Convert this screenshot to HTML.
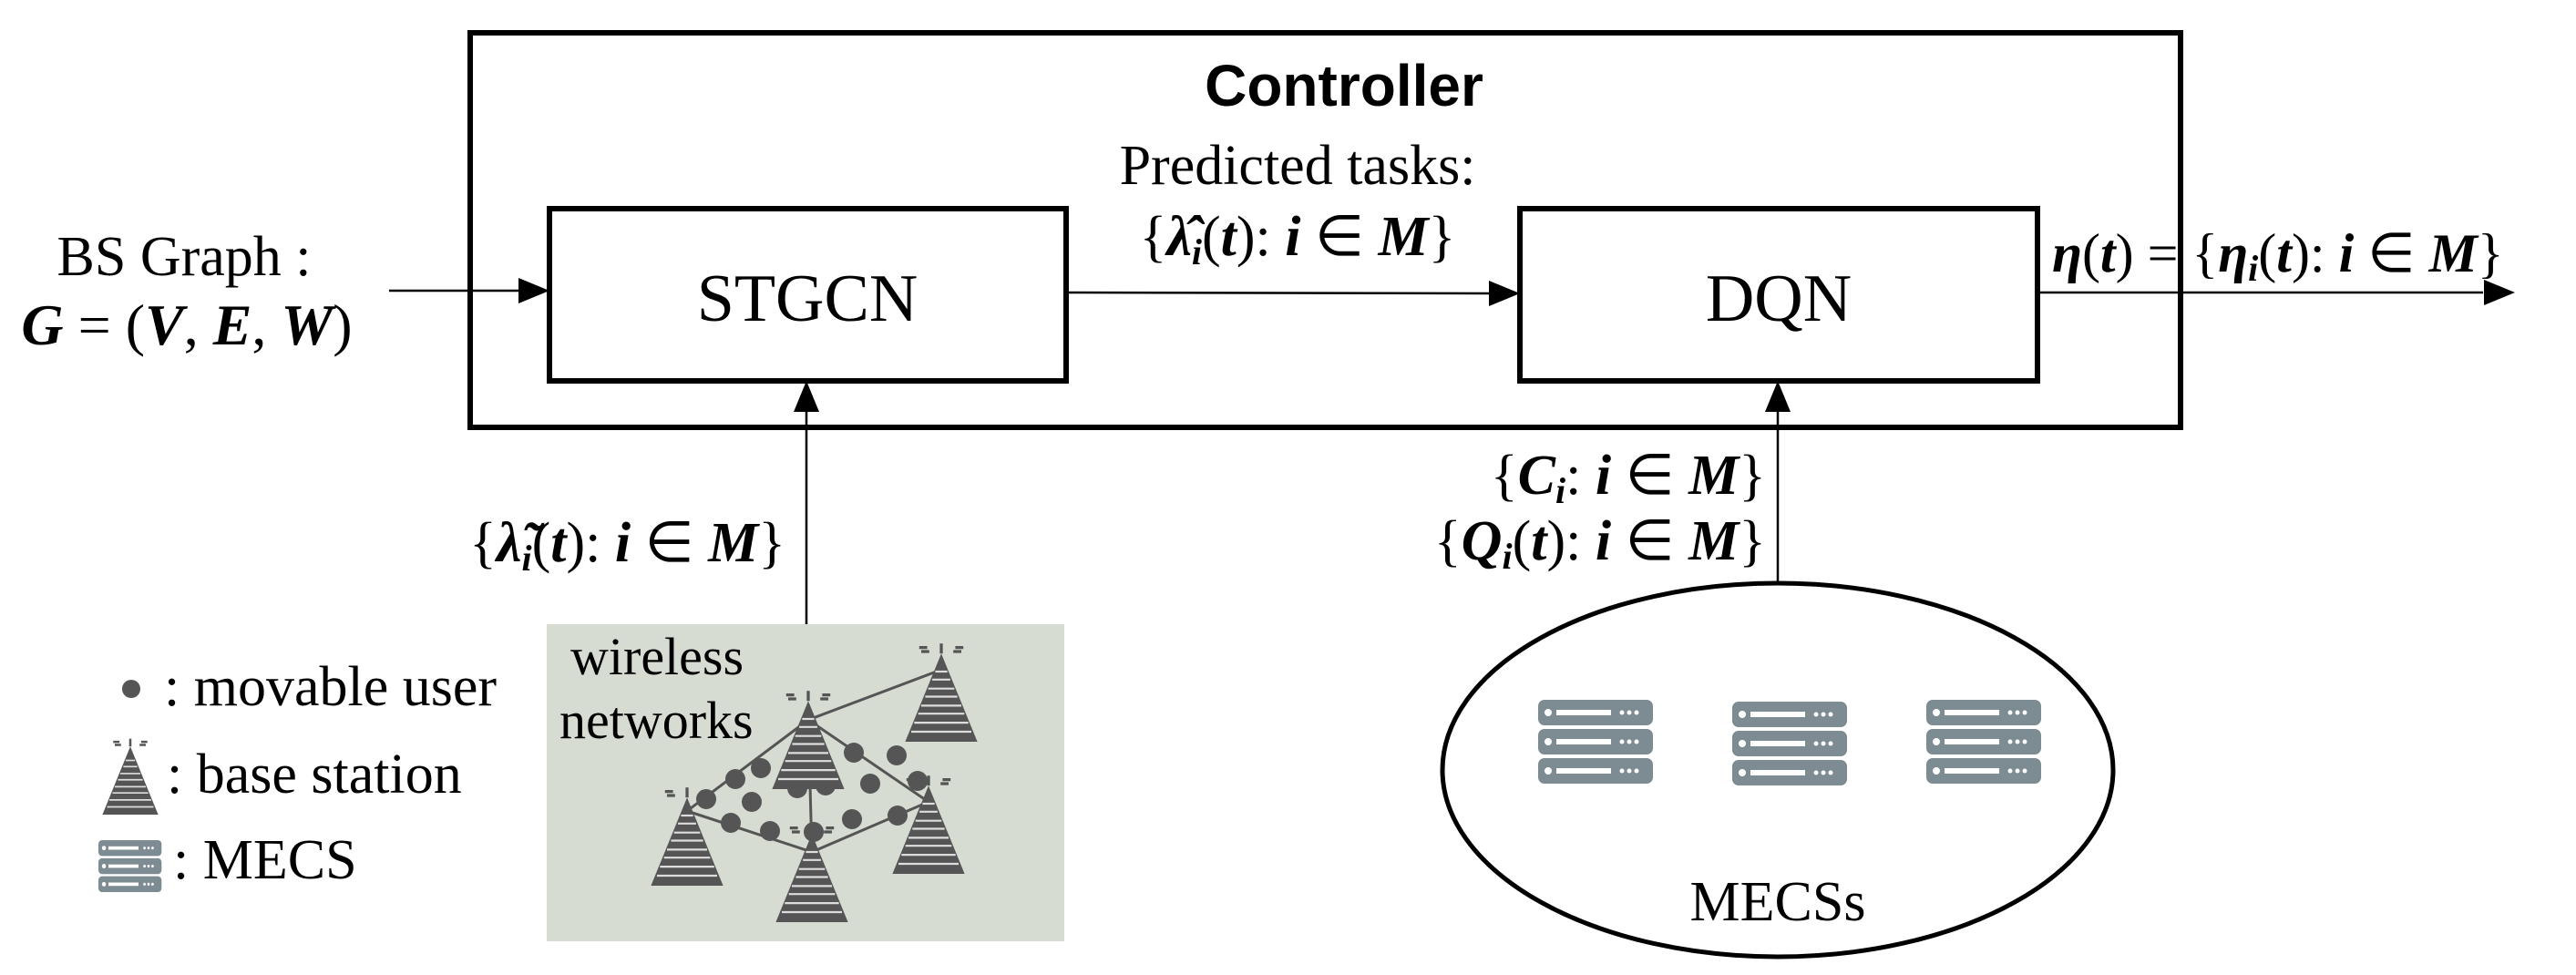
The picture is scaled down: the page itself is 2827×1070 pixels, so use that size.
<!DOCTYPE html>
<html><head><meta charset="utf-8"><style>
html,body{margin:0;padding:0;background:#fff;}
svg{display:block}
text{font-family:"Liberation Serif",serif;}
.m{font-family:"Liberation Serif",serif;font-weight:bold;font-style:italic;}
</style></head><body>
<svg width="2827" height="1070" viewBox="0 0 2827 1070" xmlns="http://www.w3.org/2000/svg">
<defs>
<g id="tower">
<polygon points="0,-48 -36,40 36,40" fill="#555"/>
<g stroke="#ddd" stroke-width="2">
<line x1="-6" y1="-30" x2="6" y2="-30"/><line x1="-9" y1="-22" x2="9" y2="-22"/>
<line x1="-13" y1="-13" x2="13" y2="-13"/><line x1="-16" y1="-5" x2="16" y2="-5"/>
<line x1="-20" y1="4" x2="20" y2="4"/><line x1="-23" y1="12" x2="23" y2="12"/>
<line x1="-27" y1="21" x2="27" y2="21"/><line x1="-30" y1="30" x2="30" y2="30"/>
</g>
<line x1="0" y1="-48" x2="0" y2="-58" stroke="#555" stroke-width="3"/>
<path d="M-22,-54 l8,0 M-20,-50 l8,0 M14,-54 l8,0 M12,-50 l8,0" stroke="#555" stroke-width="3"/>
</g>
<g id="server">
<rect x="0" y="0" width="126" height="28" rx="7" fill="#7d8b92"/>
<rect x="20" y="11" width="60" height="6" fill="#fff"/>
<circle cx="11" cy="14" r="4" fill="#fff"/>
<circle cx="92" cy="14" r="2.5" fill="#fff"/><circle cx="100" cy="14" r="2.5" fill="#fff"/><circle cx="108" cy="14" r="2.5" fill="#fff"/>
</g>
</defs>

<rect x="516" y="36" width="1877" height="433" fill="none" stroke="#000" stroke-width="6"/>
<text x="1475" y="116" text-anchor="middle" style="font-family:'Liberation Sans',sans-serif" font-weight="bold" font-size="64">Controller</text>

<rect x="603" y="229" width="567" height="189" fill="none" stroke="#000" stroke-width="6"/>
<text x="886" y="352" text-anchor="middle" font-size="74">STGCN</text>
<rect x="1668" y="229" width="568" height="189" fill="none" stroke="#000" stroke-width="6"/>
<text x="1952" y="352" text-anchor="middle" font-size="74">DQN</text>

<text x="1424" y="202" text-anchor="middle" font-size="62">Predicted tasks:</text>
<text x="1424" y="280" text-anchor="middle" font-size="62">{<tspan class="m">λ̂</tspan><tspan class="m" font-size="40" dy="10">i</tspan><tspan dy="-10">(</tspan><tspan class="m">t</tspan>): <tspan class="m">i</tspan> ∈ <tspan class="m">M</tspan>}</text>

<line x1="1170" y1="321" x2="1640" y2="322" stroke="#000" stroke-width="2.5"/>
<polygon points="1668,322 1634,308 1634,336" fill="#000"/>
<line x1="427" y1="319" x2="572" y2="319" stroke="#000" stroke-width="2.5"/>
<polygon points="603,319 569,305 569,333" fill="#000"/>
<line x1="2236" y1="321" x2="2725" y2="321" stroke="#000" stroke-width="2.5"/>
<polygon points="2760,321 2726,307 2726,335" fill="#000"/>
<line x1="885" y1="685" x2="885" y2="450" stroke="#000" stroke-width="2.5"/>
<polygon points="885,418 871,452 899,452" fill="#000"/>
<line x1="1951" y1="640" x2="1951" y2="450" stroke="#000" stroke-width="2.5"/>
<polygon points="1951,418 1937,452 1965,452" fill="#000"/>

<text x="202" y="302" text-anchor="middle" font-size="62">BS Graph :</text>
<text x="205" y="378" text-anchor="middle" font-size="64"><tspan class="m">G</tspan> = (<tspan class="m">V</tspan>, <tspan class="m">E</tspan>, <tspan class="m">W</tspan>)</text>

<text x="2252" y="298" font-size="60"><tspan class="m">η</tspan>(<tspan class="m">t</tspan>) = {<tspan class="m">η</tspan><tspan class="m" font-size="40" dy="10">i</tspan><tspan dy="-10">(</tspan><tspan class="m">t</tspan>): <tspan class="m">i</tspan> ∈ <tspan class="m">M</tspan>}</text>

<text x="862" y="616" text-anchor="end" font-size="62">{<tspan class="m">λ̃</tspan><tspan class="m" font-size="40" dy="10">i</tspan><tspan dy="-10">(</tspan><tspan class="m">t</tspan>): <tspan class="m">i</tspan> ∈ <tspan class="m">M</tspan>}</text>
<text x="1938" y="542" text-anchor="end" font-size="62">{<tspan class="m">C</tspan><tspan class="m" font-size="40" dy="10">i</tspan><tspan dy="-10">: </tspan><tspan class="m">i</tspan> ∈ <tspan class="m">M</tspan>}</text>
<text x="1938" y="614" text-anchor="end" font-size="62">{<tspan class="m">Q</tspan><tspan class="m" font-size="40" dy="10">i</tspan><tspan dy="-10">(</tspan><tspan class="m">t</tspan>): <tspan class="m">i</tspan> ∈ <tspan class="m">M</tspan>}</text>

<rect x="600" y="685" width="568" height="348" fill="#d7dcd3"/>
<text x="626" y="740" font-size="58">wireless</text>
<text x="614" y="810" font-size="58">networks</text>
<g stroke="#555" stroke-width="3" fill="none">
<path d="M887,790 L1033,735 M887,790 L1019,880 M887,790 L891,935 M754,890 L891,935 L1019,880 M754,890 L887,790"/>
</g>
<g fill="#555">
<circle cx="775" cy="877" r="11"/><circle cx="807" cy="855" r="11"/><circle cx="835" cy="843" r="11"/>
<circle cx="802" cy="903" r="11"/><circle cx="845" cy="912" r="11"/><circle cx="893" cy="913" r="11"/>
<circle cx="875" cy="865" r="11"/><circle cx="906" cy="862" r="11"/><circle cx="935" cy="899" r="11"/>
<circle cx="984" cy="829" r="11"/><circle cx="937" cy="826" r="11"/><circle cx="985" cy="895" r="11"/>
<circle cx="955" cy="860" r="11"/><circle cx="1007" cy="857" r="11"/><circle cx="825" cy="880" r="11"/>
</g>
<g transform="translate(1033,770) scale(1.1)"><use href="#tower"/></g>
<g transform="translate(887,822) scale(1.1)"><use href="#tower"/></g>
<g transform="translate(1019,915) scale(1.1)"><use href="#tower"/></g>
<g transform="translate(754,928) scale(1.1)"><use href="#tower"/></g>
<g transform="translate(891,968) scale(1.1)"><use href="#tower"/></g>

<ellipse cx="1951" cy="845" rx="368" ry="205" fill="none" stroke="#000" stroke-width="5"/>
<use href="#server" x="1688" y="768"/><use href="#server" x="1688" y="800"/><use href="#server" x="1688" y="832"/>
<use href="#server" x="1901" y="770"/><use href="#server" x="1901" y="802"/><use href="#server" x="1901" y="834"/>
<use href="#server" x="2114" y="768"/><use href="#server" x="2114" y="800"/><use href="#server" x="2114" y="832"/>
<text x="1951" y="1010" text-anchor="middle" font-size="62">MECSs</text>

<circle cx="144" cy="756" r="10" fill="#555"/>
<text x="180" y="774" font-size="62">: movable user</text>
<g transform="translate(143,860) scale(0.85)"><use href="#tower"/></g>
<text x="183" y="870" font-size="62">: base station</text>
<g transform="translate(108,922) scale(0.55,0.62)">
<use href="#server" x="0" y="0"/><use href="#server" x="0" y="32"/><use href="#server" x="0" y="64"/></g>
<text x="190" y="964" font-size="62">: MECS</text>
</svg>
</body></html>
